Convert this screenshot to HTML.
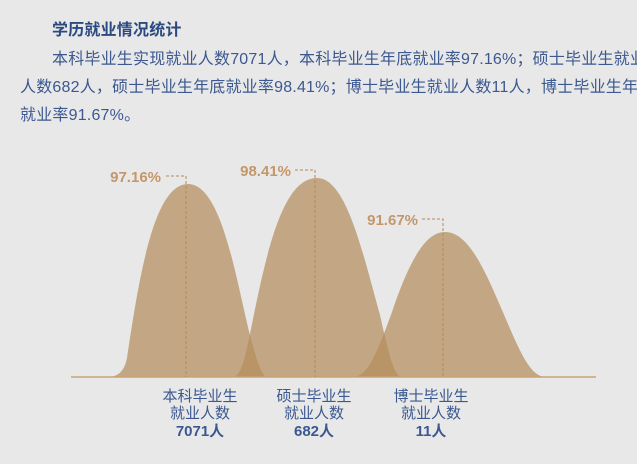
<!DOCTYPE html>
<html><head><meta charset="utf-8"><style>
html,body{margin:0;padding:0;background:#e8e8e8;width:637px;height:464px;overflow:hidden}
body{position:relative;font-family:"Liberation Sans","Noto Sans CJK SC",sans-serif}
.t{position:absolute;white-space:nowrap;color:#3b5890;font-size:16px;letter-spacing:0.2px}
</style></head><body>
<div class="t" style="left:52px;top:16px;font-weight:bold;color:#2a4a80">学历就业情况统计</div>
<div class="t" style="left:52px;top:45px">本科毕业生实现就业人数7071人，本科毕业生年底就业率97.16%；硕士毕业生就业</div>
<div class="t" style="left:20px;top:73px">人数682人，硕士毕业生年底就业率98.41%；博士毕业生就业人数11人，博士毕业生年底</div>
<div class="t" style="left:20px;top:101px">就业率91.67%。</div>
<svg width="637" height="464" style="position:absolute;left:0;top:0">
<g fill="rgb(180,140,90)" fill-opacity="0.7">
<path d="M107,377 C118,377 124,372 127,358 C140,270 155,184 188,184 C222,184 236,280 250,335 C258,365 262,377 268,377 Z"/>
<path d="M233,377 C244,377 248,340 258,295 C272,230 288,178 317,178 C346,178 362,250 380,315 C390,360 395,377 402,377 Z"/>
<path d="M353,377 C368,377 378,350 392,312 C408,265 424,232 445,232 C468,232 484,268 502,310 C520,352 530,377 546,377 Z"/>
</g>
<line x1="71" y1="377" x2="596" y2="377" stroke="#c9a272" stroke-width="1.5"/>
<g stroke="#b48a58" stroke-width="1" stroke-dasharray="3,2" fill="none">
<polyline points="166,176 186,176 186,377"/>
<polyline points="295,170 315,170 315,377"/>
<polyline points="422,219 443,219 443,377"/>
</g>
<g fill="#c4976a" font-size="15" font-weight="bold" text-anchor="end" font-family="Liberation Sans, sans-serif">
<text x="161" y="182">97.16%</text>
<text x="291" y="176">98.41%</text>
<text x="418" y="225">91.67%</text>
</g>
<g fill="#3b5890" font-size="15" text-anchor="middle" font-family="Liberation Sans, Noto Sans CJK SC, sans-serif">
<text x="200" y="401">本科毕业生</text><text x="200" y="418">就业人数</text><text x="200" y="436" font-weight="bold">7071人</text>
<text x="314" y="401">硕士毕业生</text><text x="314" y="418">就业人数</text><text x="314" y="436" font-weight="bold">682人</text>
<text x="431" y="401">博士毕业生</text><text x="431" y="418">就业人数</text><text x="431" y="436" font-weight="bold">11人</text>
</g>
</svg>
</body></html>
